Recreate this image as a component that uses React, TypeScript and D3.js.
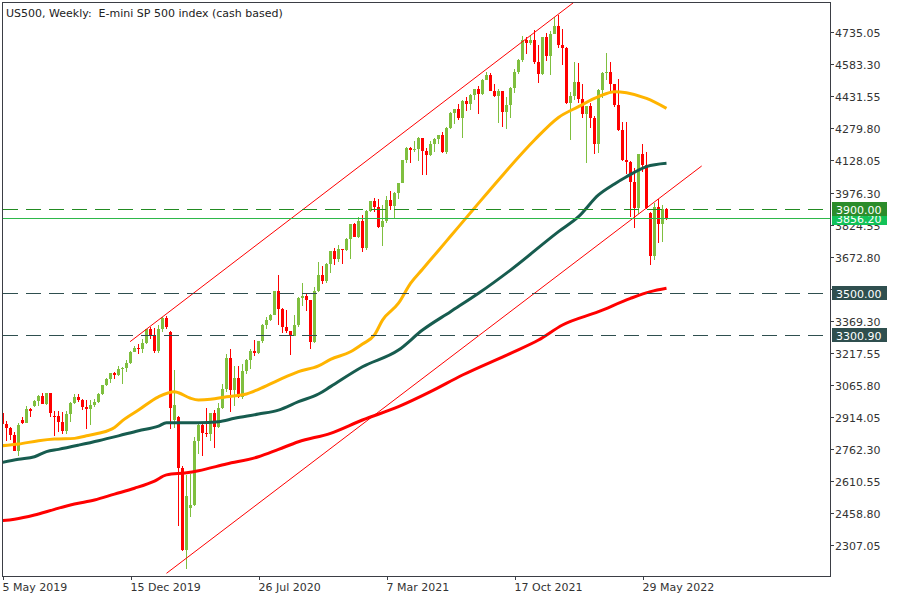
import React from 'react';
import * as d3 from 'd3';

type Bar = [number, number, number, number]; // open, high, low, close

const ohlc2019: Bar[] = [
  [2930, 2935, 2825, 2881], [2881, 2892, 2801, 2860], [2860, 2868, 2805, 2826], [2826, 2841, 2750, 2752],
  [2752, 2885, 2728, 2873], [2900, 2911, 2878, 2887], [2887, 2964, 2884, 2950], [2950, 2955, 2912, 2942],
  [2965, 2996, 2960, 2990], [2990, 3018, 2963, 3014], [3014, 3028, 2976, 2977], [2977, 3028, 2972, 3026],
  [3026, 3029, 2914, 2932], [2920, 2944, 2822, 2919], [2919, 2943, 2840, 2889], [2889, 2939, 2835, 2847],
  [2847, 2940, 2835, 2927], [2927, 2986, 2891, 2979], [2979, 3020, 2975, 3007], [3007, 3022, 2985, 2992],
  [2992, 2999, 2946, 2962], [2962, 2992, 2856, 2952], [2952, 2993, 2874, 2970], [2970, 3000, 2962, 2986],
  [2986, 3027, 2980, 3023], [3023, 3067, 3018, 3067], [3067, 3098, 3060, 3093], [3093, 3121, 3075, 3120],
  [3120, 3128, 3091, 3110], [3110, 3154, 3108, 3141], [3141, 3151, 3070, 3146], [3146, 3183, 3124, 3169],
  [3169, 3226, 3165, 3221], [3221, 3248, 3219, 3240], [3240, 3258, 3212, 3235],
];

const ohlc2020: Bar[] = [
  [3235, 3283, 3214, 3265], [3265, 3330, 3260, 3330], [3330, 3338, 3281, 3295], [3295, 3333, 3214, 3225],
  [3225, 3348, 3215, 3328], [3328, 3385, 3315, 3380], [3380, 3393, 3328, 3338], [3315, 3320, 2855, 2954],
  [2900, 3137, 2860, 2972], [2915, 2920, 2395, 2670], [2670, 2680, 2280, 2285], [2285, 2640, 2192, 2540],
  [2482, 2641, 2440, 2496], [2496, 2819, 2490, 2800], [2800, 2879, 2739, 2875], [2875, 2878, 2727, 2837],
  [2837, 2955, 2820, 2831], [2831, 2932, 2798, 2930], [2930, 2946, 2767, 2864], [2864, 2980, 2860, 2955],
  [2955, 3069, 2950, 3044], [3044, 3212, 3030, 3194], [3194, 3233, 2937, 3041], [3041, 3155, 2966, 3098],
  [3098, 3155, 3005, 3009], [3009, 3166, 3000, 3130], [3130, 3186, 3116, 3185], [3185, 3233, 3141, 3225],
  [3225, 3279, 3201, 3216], [3216, 3272, 3210, 3271], [3271, 3352, 3265, 3351], [3351, 3388, 3328, 3373],
  [3373, 3400, 3367, 3397], [3397, 3509, 3395, 3508], [3508, 3588, 3350, 3427], [3427, 3430, 3310, 3341],
  [3341, 3420, 3313, 3320], [3320, 3320, 3209, 3298], [3298, 3397, 3295, 3348], [3348, 3482, 3340, 3477],
  [3477, 3550, 3440, 3484], [3484, 3502, 3416, 3465], [3465, 3466, 3234, 3270], [3270, 3529, 3265, 3509],
  [3509, 3646, 3505, 3585], [3585, 3628, 3544, 3557], [3557, 3644, 3550, 3638], [3638, 3699, 3594, 3699],
  [3699, 3712, 3633, 3663], [3663, 3727, 3646, 3709], [3709, 3711, 3636, 3703], [3703, 3760, 3700, 3756],
];

const ohlc2021: Bar[] = [
  [3756, 3827, 3663, 3825], [3825, 3830, 3765, 3768], [3768, 3862, 3760, 3842], [3842, 3871, 3694, 3714],
  [3714, 3895, 3705, 3887], [3887, 3935, 3885, 3935], [3935, 3950, 3885, 3907], [3907, 3945, 3806, 3811],
  [3811, 3915, 3723, 3842], [3842, 3960, 3830, 3943], [3943, 3984, 3892, 3913], [3913, 3978, 3853, 3975],
  [3975, 4021, 3944, 4020], [4020, 4130, 4020, 4129], [4129, 4191, 4118, 4185], [4185, 4194, 4118, 4180],
  [4180, 4219, 4170, 4181], [4181, 4238, 4127, 4233], [4233, 4236, 4057, 4174], [4174, 4189, 4061, 4156],
  [4156, 4220, 4150, 4204], [4204, 4234, 4168, 4230], [4230, 4250, 4206, 4247], [4247, 4262, 4164, 4166],
  [4166, 4286, 4160, 4281], [4281, 4356, 4278, 4352], [4352, 4372, 4301, 4370], [4370, 4394, 4321, 4327],
  [4327, 4415, 4233, 4412], [4412, 4430, 4360, 4395], [4395, 4441, 4368, 4437], [4437, 4468, 4416, 4468],
  [4468, 4480, 4347, 4442], [4442, 4513, 4440, 4509], [4509, 4546, 4508, 4535], [4535, 4540, 4458, 4459],
  [4459, 4492, 4428, 4433], [4433, 4465, 4306, 4455], [4455, 4457, 4288, 4357], [4357, 4430, 4279, 4391],
  [4391, 4476, 4330, 4471], [4471, 4560, 4448, 4545], [4545, 4608, 4537, 4605], [4605, 4719, 4595, 4698],
  [4698, 4715, 4631, 4683], [4683, 4718, 4673, 4698], [4698, 4744, 4585, 4595], [4595, 4673, 4495, 4538],
  [4538, 4714, 4532, 4712], [4712, 4732, 4600, 4621], [4621, 4741, 4531, 4726], [4726, 4809, 4725, 4766],
];

const ohlc2022: Bar[] = [
  [4766, 4819, 4663, 4677], [4677, 4749, 4582, 4663], [4663, 4665, 4395, 4398], [4398, 4453, 4223, 4432],
  [4432, 4595, 4414, 4501], [4501, 4590, 4401, 4419], [4419, 4490, 4327, 4349], [4349, 4385, 4115, 4385],
  [4385, 4402, 4280, 4329], [4329, 4340, 4158, 4204], [4204, 4465, 4162, 4463], [4463, 4546, 4424, 4543],
  [4543, 4637, 4508, 4546], [4546, 4593, 4450, 4488], [4488, 4490, 4381, 4393], [4393, 4513, 4268, 4272],
  [4272, 4308, 4124, 4132], [4132, 4308, 4062, 4123], [4123, 4125, 3859, 4024], [4024, 4091, 3810, 3901],
  [3901, 4159, 3875, 4158], [4158, 4205, 4074, 4108], [4108, 4169, 3900, 3901], [3880, 3885, 3633, 3675],
  [3675, 3927, 3657, 3909], [3909, 3946, 3739, 3825], [3825, 3918, 3742, 3899], [3899, 3905, 3846, 3856.2],
];

// moving averages: [bar index, price]
const maYellow: [number, number][] = [
  [-1, 2776], [4, 2785], [9, 2801], [13, 2809], [18, 2812], [21, 2824], [24, 2836], [28, 2864], [30, 2896],
  [34, 2946], [39, 3009], [43, 3033], [44, 3028], [47, 3002], [49, 2994], [52, 2997], [56, 3009], [61, 3022],
  [64, 3044], [69, 3088], [74, 3128], [79, 3155], [82, 3186], [87, 3222], [90, 3259], [93, 3302], [95, 3372],
  [99, 3452], [102, 3546], [105, 3613], [109, 3702], [112, 3769], [118, 3903], [124, 4036], [133, 4225],
  [139, 4332], [144, 4383], [149, 4430], [153, 4454], [156, 4449], [161, 4422], [166, 4375],
];
const maTeal: [number, number][] = [
  [-1, 2695], [4, 2713], [8, 2725], [11, 2749], [14, 2760], [19, 2780], [24, 2801], [29, 2824], [34, 2848],
  [39, 2870], [41, 2886], [49, 2886], [54, 2891], [58, 2907], [64, 2927], [69, 2946], [74, 2986], [79, 3022],
  [82, 3057], [90, 3151], [99, 3230], [105, 3325], [112, 3412], [119, 3499], [127, 3609], [139, 3791],
  [144, 3862], [149, 3965], [153, 4017], [156, 4051], [161, 4099], [166, 4115],
];
const maRed: [number, number][] = [
  [-1, 2421], [3, 2429], [8, 2449], [13, 2476], [18, 2501], [23, 2520], [28, 2548], [33, 2576], [38, 2610],
  [41, 2639], [46, 2649], [49, 2659], [56, 2691], [64, 2725], [69, 2760], [74, 2796], [82, 2836], [90, 2899],
  [99, 2962], [107, 3033], [115, 3112], [127, 3215], [134, 3278], [140, 3349], [149, 3412], [157, 3475],
  [162, 3507], [166, 3523],
];

const channelUpper: [number, number][] = [[31.9, 3270], [142.7, 4875]];
const channelLower: [number, number][] = [[41, 2173], [174.8, 4102]];

const dashedGreenLevel = 3900;
const currentPrice = 3856.2;
const dashedDarkLevels = [3500, 3300.9];

const yTickValues = [
  2307.05, 2458.8, 2610.55, 2762.3, 2914.05, 3065.8, 3217.55, 3369.3, 3521.05,
  3672.8, 3824.55, 3976.3, 4128.05, 4279.8, 4431.55, 4583.3, 4735.05,
];
const xTickBars = [0, 32, 64, 96, 128, 160];
const xTickLabels = ['5 May 2019', '15 Dec 2019', '26 Jul 2020', '7 Mar 2021', '17 Oct 2021', '29 May 2022'];

const title = 'US500, Weekly:  E-mini SP 500 index (cash based)';

const FONT = 'DejaVu Sans, sans-serif';

export default function App() {
  const bars: Bar[] = [...ohlc2019, ...ohlc2020, ...ohlc2021, ...ohlc2022];
  const x = d3.scaleLinear().domain([0, 1]).range([2.5, 6.5]);
  const y = d3.scaleLinear().domain([2307.05, 4735.05]).range([545, 32.3]);

  const plotLeft = 3, plotTop = 3, plotRight = 830, plotBottom = 576;
  const snap = (v: number) => Math.round(v) + 0.5;

  const line = d3
    .line<[number, number]>()
    .x((d) => x(d[0]))
    .y((d) => y(d[1]))
    .curve(d3.curveMonotoneX);
  const straight = d3
    .line<[number, number]>()
    .x((d) => x(d[0]))
    .y((d) => y(d[1]));

  const bull = '#7fbf3f';
  const bear = '#ff0000';
  const axisColor = '#3b3e45';
  const textColor = '#333333';

  return (
    <svg
      width={900}
      height={600}
      style={{ position: 'absolute', left: 0, top: 0, display: 'block', background: '#ffffff' }}
      fontFamily={FONT}
      fontSize={11}
    >
      <defs>
        <clipPath id="plotClip">
          <rect x={plotLeft} y={plotTop} width={plotRight - plotLeft} height={plotBottom - plotTop} />
        </clipPath>
      </defs>
      <rect x={0} y={0} width={900} height={600} fill="#ffffff" />

      <g clipPath="url(#plotClip)">
        <g shapeRendering="crispEdges">
          {bars.map((b, i) => {
            const [o, h, l, c] = b;
            const col = c >= o ? bull : bear;
            const xc = x(i);
            const top = y(Math.max(o, c));
            const bot = y(Math.min(o, c));
            return (
              <g key={i}>
                <line x1={xc} x2={xc} y1={y(h)} y2={y(l)} stroke={col} strokeWidth={1} />
                <rect x={xc - 1.5} y={top} width={3} height={Math.max(1, bot - top)} fill={col} />
              </g>
            );
          })}
        </g>

        <path d={line(maRed) || ''} fill="none" stroke="#ff0000" strokeWidth={3} />
        <path d={line(maTeal) || ''} fill="none" stroke="#175c4f" strokeWidth={3} />
        <path d={line(maYellow) || ''} fill="none" stroke="#ffb400" strokeWidth={3} />

        <path d={straight(channelUpper) || ''} fill="none" stroke="#ff0000" strokeWidth={1} />
        <path d={straight(channelLower) || ''} fill="none" stroke="#ff0000" strokeWidth={1} />

        <line x1={plotLeft} x2={plotRight} y1={snap(y(dashedGreenLevel))} y2={snap(y(dashedGreenLevel))}
          stroke="#228b22" strokeWidth={1} strokeDasharray="15,8" />
        <line x1={plotLeft} x2={plotRight} y1={snap(y(currentPrice))} y2={snap(y(currentPrice))}
          stroke="#2db84a" strokeWidth={1} />
        {dashedDarkLevels.map((v) => (
          <line key={v} x1={plotLeft} x2={plotRight} y1={snap(y(v))} y2={snap(y(v))}
            stroke="#2f4f4f" strokeWidth={1} strokeDasharray="15,8" />
        ))}
      </g>

      <rect x={2.5} y={2.5} width={828} height={574} fill="none" stroke={axisColor} strokeWidth={1} />

      <text x={6} y={17} fill="#222222" style={{ whiteSpace: 'pre' }}>{title}</text>

      {yTickValues.map((v) => {
        const yy = snap(y(v)) - 0.5;
        return (
          <g key={v}>
            <line x1={830} x2={834} y1={yy + 0.5} y2={yy + 0.5} stroke={axisColor} />
            <text x={835} y={yy + 4.5} fill={textColor}>{v.toFixed(2)}</text>
          </g>
        );
      })}

      {xTickBars.map((b, k) => {
        const xx = Math.round(x(b)) + 0.5;
        return (
          <g key={b}>
            <line x1={xx} x2={xx} y1={576} y2={580} stroke={axisColor} />
            <text x={xx - 1} y={591} fill={textColor}>{xTickLabels[k]}</text>
          </g>
        );
      })}

      {[
        { v: currentPrice, bg: '#12c258' },
        { v: dashedGreenLevel, bg: '#2b8c2b' },
        { v: dashedDarkLevels[0], bg: '#2f4f4f' },
        { v: dashedDarkLevels[1], bg: '#2f4f4f' },
      ].map((p) => {
        const yy = snap(y(p.v)) - 0.5;
        return (
          <g key={p.v}>
            <rect x={832} y={yy - 7} width={55} height={14} fill={p.bg} />
            <text x={836} y={yy + 4.5} fill="#ffffff">{p.v.toFixed(2)}</text>
          </g>
        );
      })}
    </svg>
  );
}
